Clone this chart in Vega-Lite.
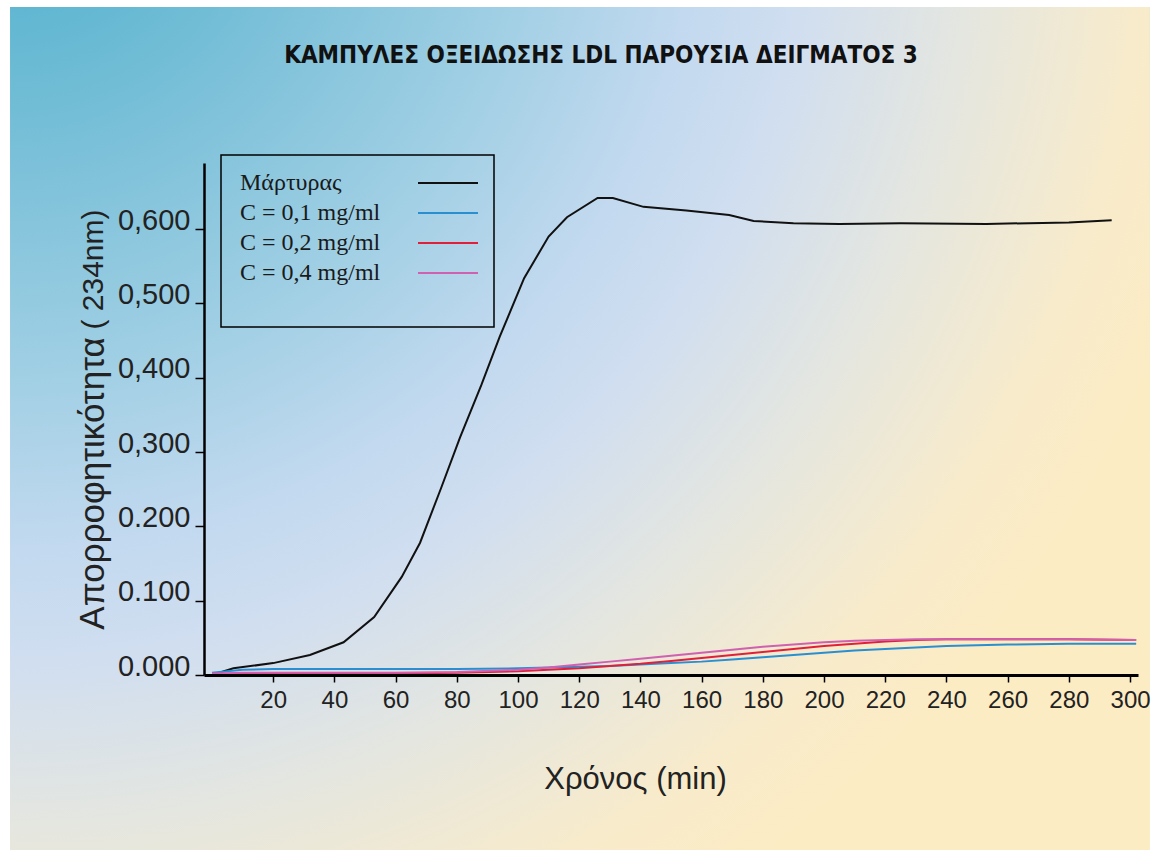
{
  "$schema": "https://vega.github.io/schema/vega-lite/v6.json",
  "width": 934,
  "height": 512,
  "autosize": {"type": "none"},
  "padding": {"left": 204, "top": 163, "right": 18, "bottom": 182},
  "background": "white",
  "view": {"stroke": null},
  "title": {
    "text": "ΚΑΜΠΥΛΕΣ ΟΞΕΙΔΩΣΗΣ LDL ΠΑΡΟΥΣΙΑ  ΔΕΙΓΜΑΤΟΣ 3",
    "font": "DejaVu Sans Condensed, Liberation Sans, sans-serif",
    "fontSize": 24,
    "fontWeight": "bold",
    "color": "#111111",
    "anchor": "middle",
    "frame": "group",
    "dx": -70,
    "offset": -80,
    "baseline": "alphabetic"
  },
  "datasets": {
    "curves": [
      {"t": 0, "A": 0.000, "s": "Μάρτυρας"},
      {"t": 7, "A": 0.009, "s": "Μάρτυρας"},
      {"t": 20, "A": 0.016, "s": "Μάρτυρας"},
      {"t": 32, "A": 0.027, "s": "Μάρτυρας"},
      {"t": 43, "A": 0.044, "s": "Μάρτυρας"},
      {"t": 53, "A": 0.078, "s": "Μάρτυρας"},
      {"t": 62, "A": 0.132, "s": "Μάρτυρας"},
      {"t": 68, "A": 0.178, "s": "Μάρτυρας"},
      {"t": 75, "A": 0.253, "s": "Μάρτυρας"},
      {"t": 81, "A": 0.319, "s": "Μάρτυρας"},
      {"t": 88, "A": 0.390, "s": "Μάρτυρας"},
      {"t": 94, "A": 0.455, "s": "Μάρτυρας"},
      {"t": 102, "A": 0.534, "s": "Μάρτυρας"},
      {"t": 110, "A": 0.590, "s": "Μάρτυρας"},
      {"t": 116, "A": 0.616, "s": "Μάρτυρας"},
      {"t": 126, "A": 0.642, "s": "Μάρτυρας"},
      {"t": 131, "A": 0.642, "s": "Μάρτυρας"},
      {"t": 141, "A": 0.630, "s": "Μάρτυρας"},
      {"t": 155, "A": 0.625, "s": "Μάρτυρας"},
      {"t": 169, "A": 0.619, "s": "Μάρτυρας"},
      {"t": 177, "A": 0.611, "s": "Μάρτυρας"},
      {"t": 190, "A": 0.608, "s": "Μάρτυρας"},
      {"t": 205, "A": 0.607, "s": "Μάρτυρας"},
      {"t": 225, "A": 0.608, "s": "Μάρτυρας"},
      {"t": 253, "A": 0.607, "s": "Μάρτυρας"},
      {"t": 280, "A": 0.609, "s": "Μάρτυρας"},
      {"t": 294, "A": 0.612, "s": "Μάρτυρας"},

      {"t": 0, "A": 0.003, "s": "C = 0,1 mg/ml"},
      {"t": 10, "A": 0.007, "s": "C = 0,1 mg/ml"},
      {"t": 20, "A": 0.008, "s": "C = 0,1 mg/ml"},
      {"t": 60, "A": 0.008, "s": "C = 0,1 mg/ml"},
      {"t": 80, "A": 0.008, "s": "C = 0,1 mg/ml"},
      {"t": 100, "A": 0.009, "s": "C = 0,1 mg/ml"},
      {"t": 110, "A": 0.010, "s": "C = 0,1 mg/ml"},
      {"t": 120, "A": 0.011, "s": "C = 0,1 mg/ml"},
      {"t": 130, "A": 0.012, "s": "C = 0,1 mg/ml"},
      {"t": 140, "A": 0.014, "s": "C = 0,1 mg/ml"},
      {"t": 150, "A": 0.016, "s": "C = 0,1 mg/ml"},
      {"t": 160, "A": 0.018, "s": "C = 0,1 mg/ml"},
      {"t": 170, "A": 0.021, "s": "C = 0,1 mg/ml"},
      {"t": 180, "A": 0.024, "s": "C = 0,1 mg/ml"},
      {"t": 190, "A": 0.027, "s": "C = 0,1 mg/ml"},
      {"t": 200, "A": 0.030, "s": "C = 0,1 mg/ml"},
      {"t": 210, "A": 0.033, "s": "C = 0,1 mg/ml"},
      {"t": 220, "A": 0.035, "s": "C = 0,1 mg/ml"},
      {"t": 230, "A": 0.037, "s": "C = 0,1 mg/ml"},
      {"t": 240, "A": 0.039, "s": "C = 0,1 mg/ml"},
      {"t": 260, "A": 0.041, "s": "C = 0,1 mg/ml"},
      {"t": 280, "A": 0.042, "s": "C = 0,1 mg/ml"},
      {"t": 302, "A": 0.042, "s": "C = 0,1 mg/ml"},

      {"t": 0, "A": 0.001, "s": "C = 0,2 mg/ml"},
      {"t": 20, "A": 0.002, "s": "C = 0,2 mg/ml"},
      {"t": 60, "A": 0.002, "s": "C = 0,2 mg/ml"},
      {"t": 80, "A": 0.003, "s": "C = 0,2 mg/ml"},
      {"t": 100, "A": 0.005, "s": "C = 0,2 mg/ml"},
      {"t": 110, "A": 0.007, "s": "C = 0,2 mg/ml"},
      {"t": 120, "A": 0.009, "s": "C = 0,2 mg/ml"},
      {"t": 130, "A": 0.012, "s": "C = 0,2 mg/ml"},
      {"t": 140, "A": 0.015, "s": "C = 0,2 mg/ml"},
      {"t": 150, "A": 0.019, "s": "C = 0,2 mg/ml"},
      {"t": 160, "A": 0.023, "s": "C = 0,2 mg/ml"},
      {"t": 170, "A": 0.027, "s": "C = 0,2 mg/ml"},
      {"t": 180, "A": 0.031, "s": "C = 0,2 mg/ml"},
      {"t": 190, "A": 0.035, "s": "C = 0,2 mg/ml"},
      {"t": 200, "A": 0.039, "s": "C = 0,2 mg/ml"},
      {"t": 210, "A": 0.042, "s": "C = 0,2 mg/ml"},
      {"t": 220, "A": 0.045, "s": "C = 0,2 mg/ml"},
      {"t": 230, "A": 0.047, "s": "C = 0,2 mg/ml"},
      {"t": 240, "A": 0.048, "s": "C = 0,2 mg/ml"},
      {"t": 260, "A": 0.048, "s": "C = 0,2 mg/ml"},
      {"t": 280, "A": 0.048, "s": "C = 0,2 mg/ml"},
      {"t": 302, "A": 0.047, "s": "C = 0,2 mg/ml"},

      {"t": 0, "A": 0.002, "s": "C = 0,4 mg/ml"},
      {"t": 10, "A": 0.003, "s": "C = 0,4 mg/ml"},
      {"t": 20, "A": 0.003, "s": "C = 0,4 mg/ml"},
      {"t": 40, "A": 0.003, "s": "C = 0,4 mg/ml"},
      {"t": 60, "A": 0.003, "s": "C = 0,4 mg/ml"},
      {"t": 80, "A": 0.004, "s": "C = 0,4 mg/ml"},
      {"t": 100, "A": 0.007, "s": "C = 0,4 mg/ml"},
      {"t": 110, "A": 0.010, "s": "C = 0,4 mg/ml"},
      {"t": 120, "A": 0.014, "s": "C = 0,4 mg/ml"},
      {"t": 130, "A": 0.018, "s": "C = 0,4 mg/ml"},
      {"t": 140, "A": 0.022, "s": "C = 0,4 mg/ml"},
      {"t": 150, "A": 0.026, "s": "C = 0,4 mg/ml"},
      {"t": 160, "A": 0.030, "s": "C = 0,4 mg/ml"},
      {"t": 170, "A": 0.034, "s": "C = 0,4 mg/ml"},
      {"t": 180, "A": 0.038, "s": "C = 0,4 mg/ml"},
      {"t": 190, "A": 0.041, "s": "C = 0,4 mg/ml"},
      {"t": 200, "A": 0.044, "s": "C = 0,4 mg/ml"},
      {"t": 210, "A": 0.046, "s": "C = 0,4 mg/ml"},
      {"t": 220, "A": 0.047, "s": "C = 0,4 mg/ml"},
      {"t": 230, "A": 0.048, "s": "C = 0,4 mg/ml"},
      {"t": 240, "A": 0.048, "s": "C = 0,4 mg/ml"},
      {"t": 260, "A": 0.048, "s": "C = 0,4 mg/ml"},
      {"t": 280, "A": 0.048, "s": "C = 0,4 mg/ml"},
      {"t": 302, "A": 0.047, "s": "C = 0,4 mg/ml"}
    ],
    "frame": [{"x0": -66.0, "x1": 306.5, "y0": -0.2355, "y1": 0.899}]
  },
  "resolve": {"scale": {"y": "independent"}, "axis": {"y": "independent"}},
  "layer": [
    {
      "data": {"name": "frame"},
      "mark": {
        "type": "rect",
        "fill": {
          "gradient": "radial",
          "x1": 0, "y1": 0, "r1": 0, "x2": 0, "y2": 0, "r2": 1.1,
          "stops": [
            {"offset": 0, "color": "#48aecb"},
            {"offset": 0.2, "color": "#72bdd6"},
            {"offset": 0.41, "color": "#a0cfe4"},
            {"offset": 0.55, "color": "#c2d9ef"},
            {"offset": 0.64, "color": "#d0def0"},
            {"offset": 0.77, "color": "#e4e6e0"},
            {"offset": 0.91, "color": "#f8ebcb"},
            {"offset": 1, "color": "#fcecc4"}
          ]
        }
      },
      "encoding": {
        "x": {"field": "x0", "type": "quantitative", "scale": {"domain": [-2.61, 302.6], "nice": false, "zero": false}},
        "x2": {"field": "x1"},
        "y": {"field": "y0", "type": "quantitative", "scale": {"domain": [0, 0.689], "nice": false, "zero": false},
          "axis": {"orient": "right", "labels": false, "ticks": false, "domain": false, "grid": false,
            "title": "( 234nm)", "titleFont": "Liberation Sans", "titleFontSize": 30, "titleFontWeight": "normal",
            "titleColor": "#222222", "titleAngle": -90, "titleX": -1036, "titleY": 106, "titleBaseline": "alphabetic", "titleAlign": "center", "zindex": 1}},
        "y2": {"field": "y1"}
      }
    },
    {
      "data": {"name": "curves"},
      "mark": {"type": "line", "strokeWidth": 2},
      "encoding": {
        "x": {"field": "t", "type": "quantitative", "scale": {"domain": [-2.61, 302.6], "nice": false, "zero": false},
          "axis": {"values": [20, 40, 60, 80, 100, 120, 140, 160, 180, 200, 220, 240, 260, 280, 300],
            "domainWidth": 3, "domainColor": "black", "tickColor": "black", "tickWidth": 1.5, "tickSize": 7,
            "labelFont": "Liberation Sans", "labelFontSize": 24, "labelColor": "#222222", "labelDx": -12, "labelPadding": 6,
            "labelFlush": false, "labelOverlap": false, "grid": false, "zindex": 1,
            "title": "Χρόνος  (min)", "titleFont": "Liberation Sans", "titleFontSize": 31, "titleFontWeight": "normal",
            "titleColor": "#222222", "titleX": 431, "titleY": 113, "titleBaseline": "alphabetic", "titleAlign": "center"}},
        "y": {"field": "A", "type": "quantitative", "scale": {"domain": [0, 0.689], "nice": false, "zero": false},
          "axis": {"orient": "left", "values": [0, 0.1, 0.2, 0.3, 0.4, 0.5, 0.6],
            "labelExpr": "datum.value > 0.25 ? replace(format(datum.value, '.3f'), '.', ',') : format(datum.value, '.3f')",
            "domainWidth": 2.5, "domainColor": "black", "tickColor": "black", "tickWidth": 1.5, "tickSize": 9,
            "labelFont": "Liberation Sans", "labelFontSize": 29, "labelColor": "#222222", "labelBaseline": "alphabetic", "labelPadding": 5,
            "labelFlush": false, "labelOverlap": false, "grid": false, "zindex": 1,
            "title": "Απορροφητικότητα", "titleFont": "Liberation Sans", "titleFontSize": 35, "titleFontWeight": "normal",
            "titleColor": "#222222", "titleAngle": -90, "titleX": -101, "titleY": 320, "titleBaseline": "alphabetic", "titleAlign": "center"}},
        "color": {"field": "s", "type": "nominal",
          "scale": {"domain": ["Μάρτυρας", "C = 0,1 mg/ml", "C = 0,2 mg/ml", "C = 0,4 mg/ml"], "range": ["#111111", "#2a8fd0", "#e0203a", "#d060b0"]},
          "legend": {"orient": "none", "legendX": 17, "legendY": -8, "title": " ", "titleOrient": "bottom", "titleFontSize": 24, "titlePadding": 6,
            "padding": 12, "strokeColor": "black",
            "labelFont": "Liberation Serif", "labelFontSize": 24, "labelColor": "#1a1a1a", "labelLimit": 300,
            "symbolType": "M-2,0H2", "symbolSize": 900, "symbolStrokeWidth": 2, "symbolOffset": 199, "labelOffset": -224, "rowPadding": 2,
            "encode": {"legend": {"update": {"strokeWidth": {"value": 1.5}}}}}}
      }
    }
  ]
}
